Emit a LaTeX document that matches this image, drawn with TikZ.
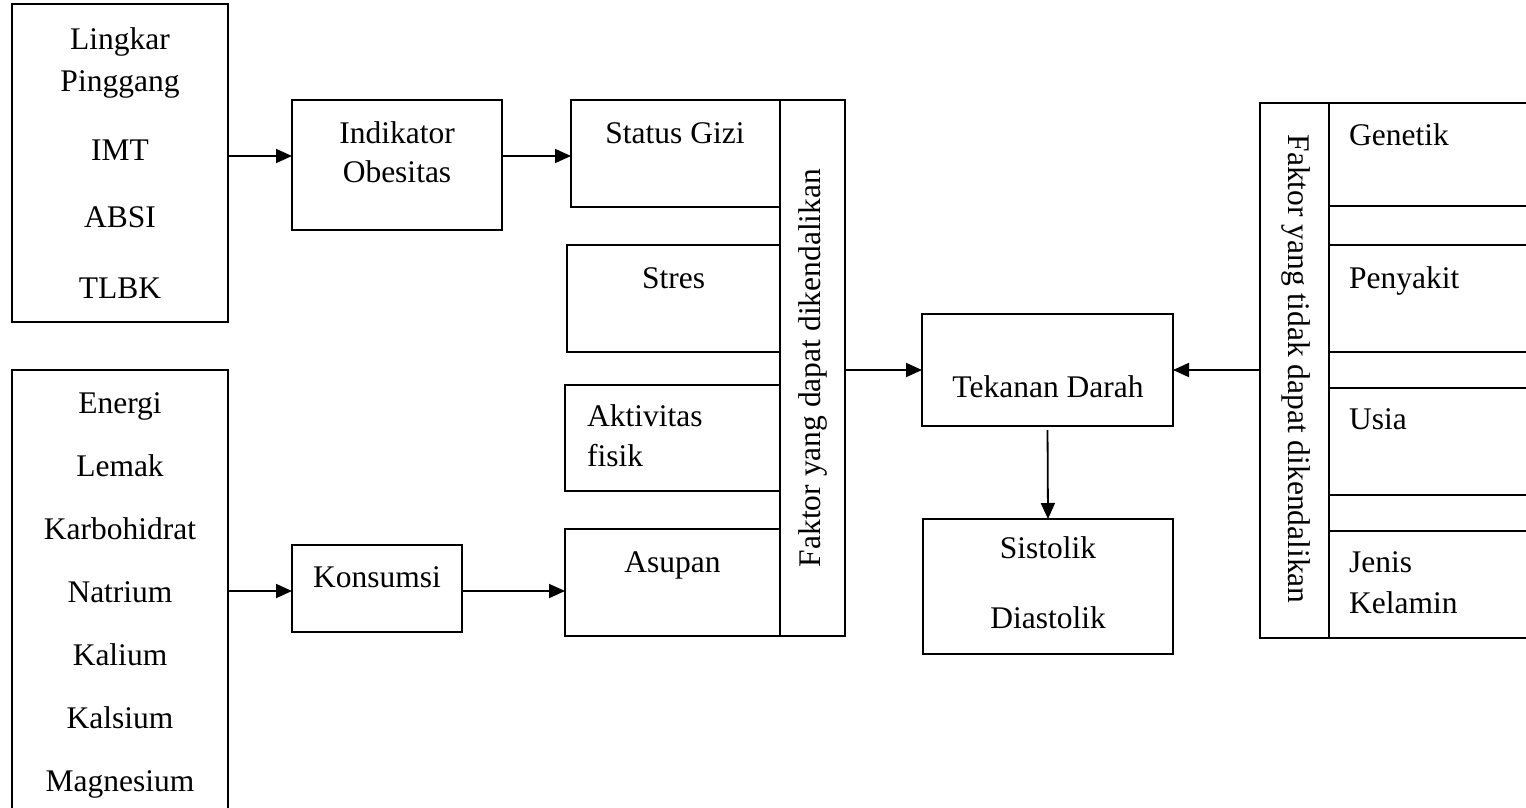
\documentclass[tikz,border=0pt]{standalone}
\usepackage{fontspec}
\setmainfont{Liberation Serif}
\usetikzlibrary{arrows.meta}
\begin{document}
\begin{tikzpicture}[x=1pt,y=-1pt,
  box/.style={draw=black, line width=2.2pt, inner sep=0pt, outer sep=0pt},
  vbox/.style={draw=black, line width=1.8pt, inner sep=0pt, outer sep=0pt},
  txt/.style={inner sep=0pt, anchor=base, font=\fontsize{31.5}{37}\selectfont},
  ltxt/.style={txt, anchor=base west},
  arr/.style={line width=1.8pt, -{Triangle[length=16pt,width=14pt]}}]
\useasboundingbox (0,0) rectangle (1526,808);
\clip (0,0) rectangle (1526,808);
% left boxes
\node[box, minimum width=216pt, minimum height=318pt] (b1) at (120,163) {};
\node[box, minimum width=216pt, minimum height=460pt] (b2) at (120,600) {};
\node[txt] (t1) at (120,49) {Lingkar};
\node[txt] (t2) at (120,92) {Pinggang};
\node[txt] (t3) at (120,160) {IMT};
\node[txt] (t4) at (120,227) {ABSI};
\node[txt] (t5) at (120,298) {TLBK};
\node[txt] (e1) at (120,413) {Energi};
\node[txt] (e2) at (120,476) {Lemak};
\node[txt] (e3) at (120,539) {Karbohidrat};
\node[txt] (e4) at (120,602) {Natrium};
\node[txt] (e5) at (120,665) {Kalium};
\node[txt] (e6) at (120,728) {Kalsium};
\node[txt] (e7) at (120,791) {Magnesium};
% second column
\node[box, minimum width=210pt, minimum height=130pt] (ind) at (397,165) {};
\node[txt] (ti1) at (397,143) {Indikator};
\node[txt] (ti2) at (397,182) {Obesitas};
\node[box, minimum width=170pt, minimum height=87pt] (kons) at (377,588.5) {};
\node[txt] (tk) at (377,587) {Konsumsi};
% third column
\node[box, minimum width=209pt, minimum height=107pt] (gizi) at (675.5,153.5) {};
\node[txt] (tg) at (675,143) {Status Gizi};
\node[box, minimum width=213pt, minimum height=107pt] (stres) at (673.5,298.5) {};
\node[txt] (ts) at (673.5,288) {Stres};
\node[box, minimum width=215pt, minimum height=106pt] (akt) at (672.5,438) {};
\node[ltxt] (ta1) at (587,426) {Aktivitas};
\node[ltxt] (ta2) at (587,466) {fisik};
\node[box, minimum width=215pt, minimum height=107pt] (asup) at (672.5,582.5) {};
\node[txt] (tas) at (672.5,572) {Asupan};
\node[vbox, minimum width=65pt, minimum height=536pt] (fak1) at (812.5,368) {};
\node[txt, rotate=90] (tf1) at (820,368) {Faktor yang dapat dikendalikan};
% centre
\node[box, minimum width=251pt, minimum height=112pt] (tek) at (1047.5,370) {};
\node[txt] (tt) at (1048,397) {Tekanan Darah};
\node[box, minimum width=250pt, minimum height=135pt] (sis) at (1048,586.5) {};
\node[txt] (ts1) at (1048,558) {Sistolik};
\node[txt] (ts2) at (1048,628) {Diastolik};
% right
\node[vbox, minimum width=69pt, minimum height=535pt] (fak2) at (1294.5,370.5) {};
\node[txt, rotate=-90] (tf2) at (1288,369) {Faktor yang tidak dapat dikendalikan};
\node[box, minimum width=231pt, minimum height=103pt] (gen) at (1444.5,154.5) {};
\node[ltxt] (tgn) at (1349,145) {Genetik};
\node[box, minimum width=231pt, minimum height=107pt] (pen) at (1444.5,298.5) {};
\node[ltxt] (tpn) at (1349,288) {Penyakit};
\node[box, minimum width=231pt, minimum height=107pt] (usia) at (1444.5,441.5) {};
\node[ltxt] (tus) at (1349,429) {Usia};
\node[box, minimum width=231pt, minimum height=107pt] (jk) at (1444.5,584.5) {};
\node[ltxt] (tj1) at (1349,572) {Jenis};
\node[ltxt] (tj2) at (1349,613) {Kelamin};
% connectors
\draw[arr] (b1.east |- 0,156) -- (ind.west |- 0,156);
\draw[arr] (ind.east |- 0,156) -- (gizi.west |- 0,156);
\draw[arr] (b2.east |- 0,591) -- (kons.west |- 0,591);
\draw[arr] (kons.east |- 0,591) -- (asup.west |- 0,591);
\draw[arr] (fak1.east |- tek.west) -- (tek.west);
\draw[arr] (fak2.west |- tek.east) -- (tek.east);
\draw[arr, shorten <=4pt] (tek.south) -- (sis.north);
\end{tikzpicture}
\end{document}
